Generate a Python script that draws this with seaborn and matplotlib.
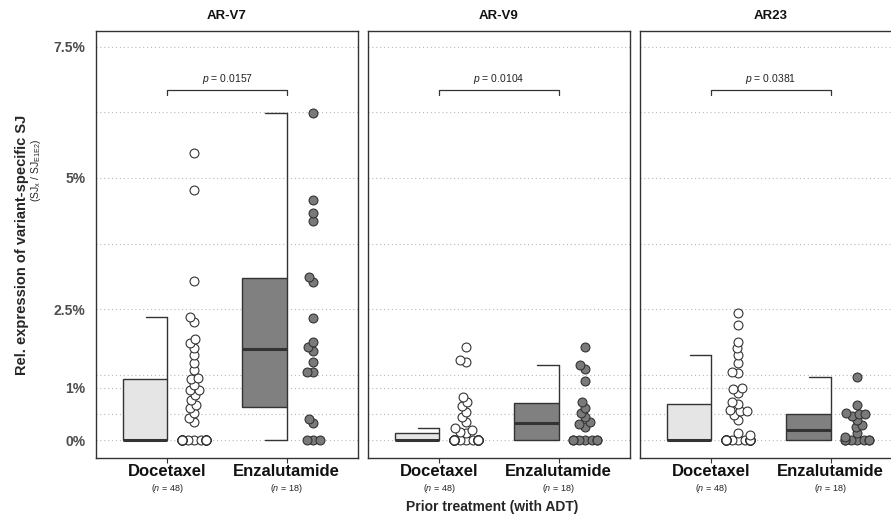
import warnings
import numpy as np
import pandas as pd
import matplotlib
matplotlib.use('Agg')
import matplotlib.pyplot as plt
import matplotlib.transforms as mtransforms
from matplotlib.cbook import boxplot_stats
import seaborn as sns

warnings.filterwarnings('ignore')

# relative expression of variant-specific SJ (in %)
panels = ['AR-V7', 'AR-V9', 'AR23']
treatments = ['Docetaxel', 'Enzalutamide']
n_labels = ['(n = 48)', '(n = 18)']
p_values = ['0.0157', '0.0104', '0.0381']

arv7_doc = [0.0] * 25 + [0.34, 0.42, 0.52, 0.61, 0.67, 0.76, 0.86, 0.95, 0.95, 1.05, 1.16, 1.18,
                         1.34, 1.47, 1.62, 1.76, 1.85, 1.93, 2.25, 2.35, 3.03, 4.77, 5.48]
arv7_enz = [0.0] * 3 + [0.32, 0.41, 1.29, 1.30, 1.48, 1.70, 1.78, 1.88, 2.32, 3.02, 3.11,
                        4.18, 4.33, 4.58, 6.24]
arv9_doc = [0.0] * 35 + [0.13, 0.15, 0.19, 0.23, 0.35, 0.44, 0.54, 0.64, 0.73, 0.83,
                         1.48, 1.53, 1.78]
arv9_enz = [0.0] * 7 + [0.25, 0.30, 0.34, 0.43, 0.52, 0.62, 0.73, 1.13, 1.35, 1.43, 1.78]
ar23_doc = [0.0] * 28 + [0.10, 0.13, 0.38, 0.48, 0.55, 0.56, 0.57, 0.68,
                         0.72, 0.90, 0.98, 1.00, 1.28, 1.30, 1.47, 1.63, 1.75, 1.88, 2.19, 2.42]
ar23_enz = [0.0] * 7 + [0.05, 0.13, 0.25, 0.29, 0.38, 0.45, 0.50, 0.50, 0.52, 0.67, 1.20]

values = {
    ('AR-V7', 'Docetaxel'): arv7_doc, ('AR-V7', 'Enzalutamide'): arv7_enz,
    ('AR-V9', 'Docetaxel'): arv9_doc, ('AR-V9', 'Enzalutamide'): arv9_enz,
    ('AR23', 'Docetaxel'): ar23_doc, ('AR23', 'Enzalutamide'): ar23_enz,
}

rows = []
for (panel, treat), vals in values.items():
    for v in vals:
        rows.append((panel, treat, v))
df = pd.DataFrame(rows, columns=['panel', 'treatment', 'value'])

positions = {'Docetaxel': 1, 'Enzalutamide': 2}
box_w = 0.37
df['box_x'] = df['treatment'].map(positions) - box_w / 2

box_fill = {'Docetaxel': '#e5e5e5', 'Enzalutamide': '#808080'}
dot_fill = {'Docetaxel': '#ffffff', 'Enzalutamide': '#7a7a7a'}
dark = '#333333'

sns.set_style('white')
plt.rcParams['font.family'] = ['Liberation Sans Narrow', 'Liberation Sans', 'DejaVu Sans']
plt.rcParams['mathtext.fontset'] = 'custom'
plt.rcParams['mathtext.it'] = 'Liberation Sans:italic'
plt.rcParams['mathtext.rm'] = 'Liberation Sans'

fig = plt.figure(figsize=(8.91, 5.15), dpi=100)
W, H = 891, 515
lefts = [96, 368, 640]
ylim = (-0.343, 7.805)
swarm_scale = 0.25
twins = []

for i, panel in enumerate(panels):
    ax = fig.add_axes([lefts[i] / W, 57 / H, 262 / W, 427 / H])
    sub = df[df['panel'] == panel]

    sns.boxplot(data=sub, x='box_x', y='value', hue='treatment', hue_order=treatments,
                palette=box_fill, native_scale=True, dodge=False, width=box_w,
                showcaps=False, showfliers=False, saturation=1, legend=False,
                linecolor=dark, linewidth=1,
                whiskerprops={'linewidth': 0},
                medianprops={'linewidth': 2.2, 'color': dark}, ax=ax)

    # half-box whiskers sit on the right edge of each box
    for treat in treatments:
        pos = positions[treat]
        st = boxplot_stats(np.array(values[(panel, treat)]))[0]
        if st['whishi'] > st['q3']:
            ax.plot([pos, pos], [st['q3'], st['whishi']], color=dark, lw=1, zorder=3)
            ax.plot([pos - 0.18, pos], [st['whishi'], st['whishi']], color=dark, lw=1, zorder=3)
        if st['whislo'] < st['q1']:
            ax.plot([pos, pos], [st['whislo'], st['q1']], color=dark, lw=1, zorder=3)
            ax.plot([pos - 0.18, pos], [st['whislo'], st['whislo']], color=dark, lw=1, zorder=3)

    # significance bracket
    ax.plot([1, 1, 2, 2], [6.58, 6.68, 6.68, 6.58], color=dark, lw=0.9)
    ax.text(1.5, 6.76, '$p$ = ' + p_values[i], ha='center', va='bottom',
            fontsize=7.5, color='#222222')

    ax.set_xlim(0.4, 2.6)
    ax.set_ylim(*ylim)
    ax.set_yticks([0, 1, 2.5, 5, 7.5])
    ax.set_yticks([0.5, 1.25, 3.75, 6.25], minor=True)
    ax.grid(True, which='both', axis='y', ls=(0, (1, 2.5)), color='#b8b8b8', lw=0.8)
    ax.grid(False, axis='x')
    ax.set_axisbelow(True)
    ax.tick_params(which='minor', length=0)
    if i == 0:
        ax.set_yticklabels(['0%', '1%', '2.5%', '5%', '7.5%'], fontsize=10,
                           color='#4d4d4d', fontweight='bold', family='Liberation Sans')
        ax.tick_params(axis='y', which='major', length=4, color=dark, width=0.8)
    else:
        ax.set_yticklabels([])
        ax.tick_params(axis='y', which='major', length=0)
    ax.set_xticks([1, 2])
    ax.set_xticklabels(treatments, fontsize=12, fontweight='bold', color='#111111')
    ax.tick_params(axis='x', length=3.5, color=dark, width=0.8, pad=1)
    ax.set_xlabel('')
    ax.set_ylabel('')
    for s in ax.spines.values():
        s.set_color(dark)
        s.set_linewidth(1)
    ax.text(0.5, 1.022, panel, transform=ax.transAxes, ha='center', va='bottom',
            fontsize=9.5, fontweight='bold', color='#111111')

    trans = mtransforms.blended_transform_factory(ax.transData, ax.transAxes)
    for treat, nl in zip(treatments, n_labels):
        ax.text(positions[treat], -0.071, nl.replace('n', '$n$'), transform=trans,
                ha='center', va='center', fontsize=6.5, color='#222222')

    # beeswarm of individual patients, drawn on a narrow twin scale
    for treat in treatments:
        c = positions[treat] + 0.225
        tx = ax.twiny()
        sns.swarmplot(data=sub[sub['treatment'] == treat], x='treatment', y='value',
                      color=dot_fill[treat], edgecolor=dark, linewidth=0.8, size=3.8,
                      warn_thresh=1, ax=tx)
        tx.set_xlim((0.4 - c) / swarm_scale, (2.6 - c) / swarm_scale)
        tx.set_ylim(*ylim)
        tx.axis('off')
        twins.append(tx)

fig.text(0.025, 0.524, 'Rel. expression of variant-specific SJ', rotation=90,
         ha='center', va='center', fontsize=10.5, fontweight='bold', family='Liberation Sans')
fig.text(0.040, 0.67, r'(SJ$_\mathregular{x}$ / SJ$_\mathregular{E1E2}$)', rotation=90,
         ha='center', va='center', fontsize=7.5, family='Liberation Sans')
fig.text(0.552, 0.016, 'Prior treatment (with ADT)', ha='center', va='center',
         fontsize=10, fontweight='bold')

# place the swarm with a smaller footprint, then show the full-size markers
fig.canvas.draw()
for tx in twins:
    for coll in tx.collections:
        if 'draw' in coll.__dict__:
            del coll.draw
        coll.set_sizes([6.4 ** 2])

fig.savefig('out.png', dpi=100)
